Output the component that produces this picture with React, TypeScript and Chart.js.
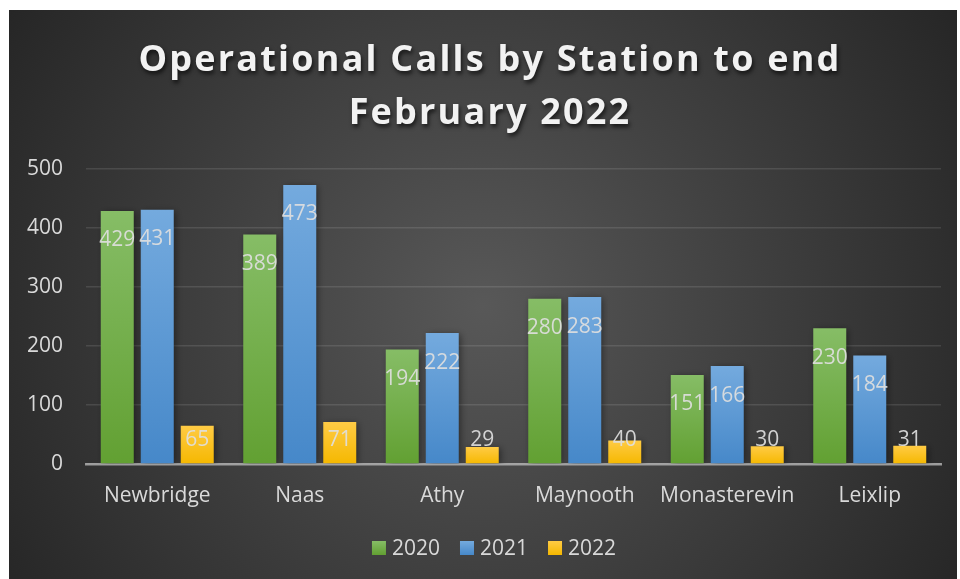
import React, { useEffect, useRef } from "react";
import { Chart, registerables } from "chart.js";

Chart.register(...registerables);

const categories = ["Newbridge", "Naas", "Athy", "Maynooth", "Monasterevin", "Leixlip"];
const calls2020 = [429, 389, 194, 280, 151, 230];
const calls2021 = [431, 473, 222, 283, 166, 184];
const calls2022 = [65, 71, 29, 40, 30, 31];
const seriesLabels = ["2020", "2021", "2022"];
const yTicks = [0, 100, 200, 300, 400, 500];
const titleLines = ["Operational Calls by Station to end", "February 2022"];

const FONT = "'Open Sans', 'DejaVu Sans', sans-serif";
const TEXT = "#d9d9d9";

const seriesColors = [
  { top: "#86bd66", bottom: "#62a032", solid: "#70ad47" },
  { top: "#74aade", bottom: "#4688c9", solid: "#5b9bd5" },
  { top: "#ffcb45", bottom: "#f5b800", solid: "#ffc000" },
];

function barFill(top: string, bottom: string) {
  return (c: any) => {
    const chart = c.chart;
    const y = chart.scales && chart.scales.y;
    if (!chart.chartArea || !y || c.type !== "data") return bottom;
    const v = c.parsed ? c.parsed.y : c.raw;
    const yTop = y.getPixelForValue(v);
    const yBase = y.getPixelForValue(0);
    if (!isFinite(yTop) || !isFinite(yBase) || yTop === yBase) return bottom;
    const g = chart.ctx.createLinearGradient(0, yTop, 0, yBase);
    g.addColorStop(0, top);
    g.addColorStop(1, bottom);
    return g;
  };
}

const backgroundPlugin = {
  id: "bgPlugin",
  beforeDraw(chart: any) {
    const { ctx, width, height } = chart;
    ctx.save();
    const cx = width / 2;
    const cy = height * 0.52;
    const g = ctx.createRadialGradient(cx, cy, 0, cx, cy, Math.hypot(cx, cy) * 1.0);
    g.addColorStop(0, "#585858");
    g.addColorStop(1, "#262626");
    ctx.fillStyle = g;
    ctx.fillRect(0, 0, width, height);
    ctx.restore();
  },
};

const titlePlugin = {
  id: "titlePlugin",
  afterDraw(chart: any) {
    const { ctx } = chart;
    ctx.save();
    ctx.font = `bold 36px ${FONT}`;
    (ctx as any).letterSpacing = "2.2px";
    ctx.textAlign = "center";
    ctx.textBaseline = "alphabetic";
    ctx.fillStyle = "#f2f2f2";
    ctx.shadowColor = "rgba(0,0,0,0.65)";
    ctx.shadowBlur = 4;
    ctx.shadowOffsetX = 1.5;
    ctx.shadowOffsetY = 2.5;
    const baselines = [61, 114];
    titleLines.forEach((t, i) => ctx.fillText(t, 481, baselines[i]));
    ctx.restore();
  },
};

const legendPlugin = {
  id: "legendPlugin",
  afterDraw(chart: any) {
    const { ctx } = chart;
    ctx.save();
    ctx.font = `21px ${FONT}`;
    const box = 14;
    const gap = 6;
    const itemGap = 20;
    const widths = seriesLabels.map((l) => ctx.measureText(l).width);
    const total = widths.reduce((a, w) => a + box + gap + w, 0) + itemGap * (seriesLabels.length - 1);
    let x = 485 - total / 2;
    const cy = 538;
    seriesLabels.forEach((l, i) => {
      const g = ctx.createLinearGradient(0, cy - box / 2, 0, cy + box / 2);
      g.addColorStop(0, seriesColors[i].top);
      g.addColorStop(1, seriesColors[i].bottom);
      ctx.fillStyle = g;
      ctx.fillRect(x, cy - box / 2, box, box);
      x += box + gap;
      ctx.fillStyle = TEXT;
      ctx.textAlign = "left";
      ctx.textBaseline = "alphabetic";
      ctx.fillText(l, x, cy + 21 * 0.357);
      x += widths[i] + itemGap;
    });
    ctx.restore();
  },
};

const shadowPlugin = {
  id: "shadowPlugin",
  beforeDatasetsDraw(chart: any) {
    const { ctx } = chart;
    ctx.save();
    ctx.shadowColor = "rgba(0,0,0,0.45)";
    ctx.shadowBlur = 7;
    ctx.shadowOffsetX = 2;
    ctx.shadowOffsetY = 1;
  },
  afterDatasetsDraw(chart: any) {
    chart.ctx.restore();
  },
};

const labelPlugin = {
  id: "labelPlugin",
  afterDatasetsDraw(chart: any) {
    const { ctx } = chart;
    ctx.save();
    ctx.font = `21px ${FONT}`;
    ctx.textAlign = "center";
    ctx.textBaseline = "alphabetic";
    ctx.fillStyle = "rgba(222,222,222,0.92)";
    chart.data.datasets.forEach((ds: any, di: number) => {
      const meta = chart.getDatasetMeta(di);
      meta.data.forEach((el: any, i: number) => {
        const top = el.y;
        const base = el.base;
        const cy = Math.min(top + 28, base - 25);
        ctx.fillText(String(ds.data[i]), el.x, cy + 21 * 0.357);
      });
    });
    ctx.restore();
  },
};

export default function App() {
  const ref = useRef<HTMLCanvasElement | null>(null);

  useEffect(() => {
    if (!ref.current) return;
    const data = [calls2020, calls2021, calls2022];
    const chart = new Chart(ref.current, {
      type: "bar",
      data: {
        labels: categories,
        datasets: data.map((d, i) => ({
          label: seriesLabels[i],
          data: d,
          backgroundColor: barFill(seriesColors[i].top, seriesColors[i].bottom),
          borderWidth: 0,
          categoryPercentage: 0.842,
          barPercentage: 0.825,
        })),
      },
      options: {
        responsive: false,
        animation: false,
        events: [],
        layout: { padding: { top: 159, right: 16, bottom: 0, left: 0 } },
        plugins: {
          legend: { display: false },
          title: { display: false },
          tooltip: { enabled: false },
        },
        scales: {
          x: {
            afterFit: (s: any) => {
              s.height = 115;
            },
            grid: { display: false, drawTicks: false },
            border: { display: true, color: "rgba(190,190,190,0.75)", width: 2.5 },
            ticks: {
              color: TEXT,
              font: { family: FONT, size: 21 },
              padding: 19,
              maxRotation: 0,
            },
          },
          y: {
            min: 0,
            max: 500,
            afterFit: (s: any) => {
              s.width = 77;
            },
            afterBuildTicks: (s: any) => {
              s.ticks = yTicks.map((v) => ({ value: v }));
            },
            grid: { color: "rgba(255,255,255,0.11)", lineWidth: 1.5, drawTicks: false },
            border: { display: false },
            ticks: {
              color: TEXT,
              font: { family: FONT, size: 21 },
              padding: 23,
            },
          },
        },
      },
      plugins: [backgroundPlugin, shadowPlugin, labelPlugin, titlePlugin, legendPlugin],
    });
    return () => chart.destroy();
  }, []);

  return (
    <div style={{ position: "absolute", left: 0, top: 0, width: 960, height: 579, background: "#ffffff" }}>
      <div style={{ position: "absolute", left: 9, top: 10, width: 948, height: 569 }}>
        <canvas ref={ref} width={948} height={569} style={{ display: "block" }} />
      </div>
    </div>
  );
}
